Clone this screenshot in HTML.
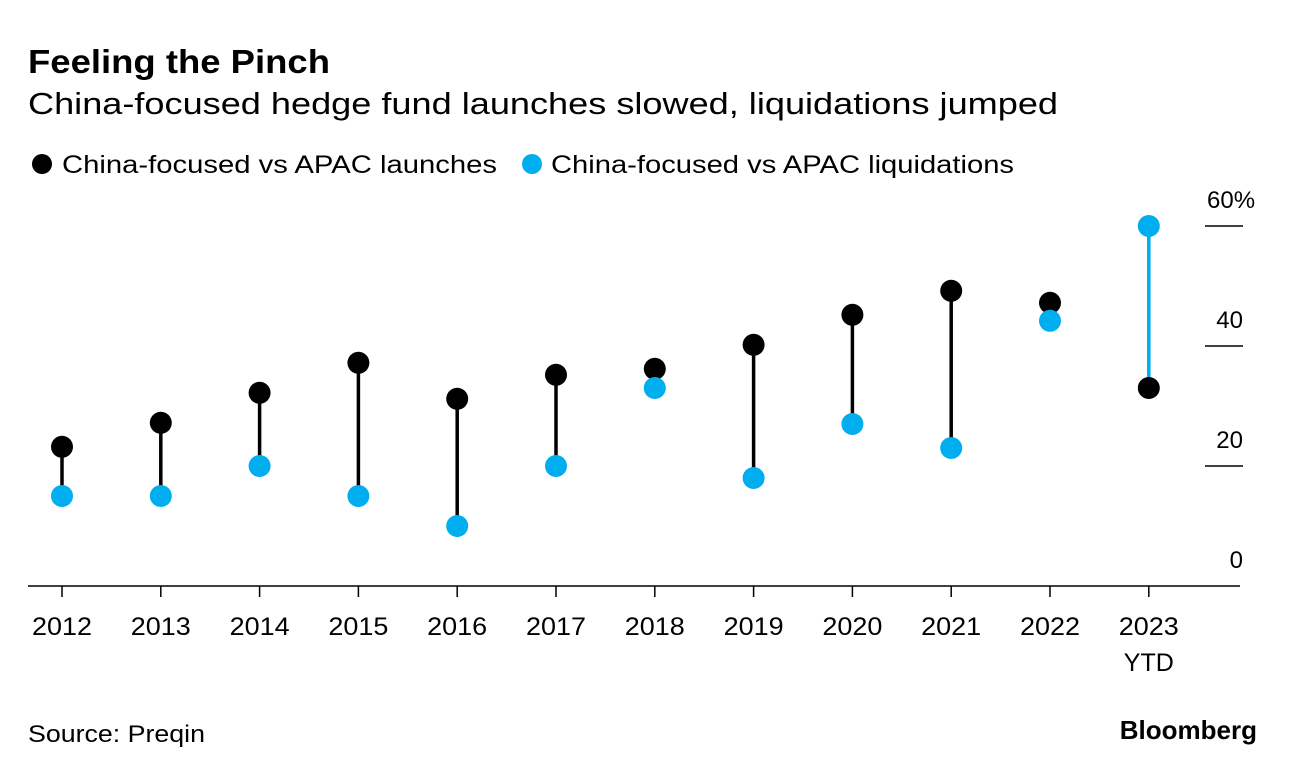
<!DOCTYPE html>
<html><head><meta charset="utf-8"><style>
body{margin:0;background:#fff;font-family:"Liberation Sans",Arial,sans-serif;}
svg{display:block}
</style></head><body>
<svg width="1296" height="774">
<text x="28" y="73" font-size="33" font-weight="bold" fill="#000" textLength="302" lengthAdjust="spacingAndGlyphs">Feeling the Pinch</text>
<text x="28" y="114" font-size="31" fill="#000" textLength="1030" lengthAdjust="spacingAndGlyphs">China-focused hedge fund launches slowed, liquidations jumped</text>
<g>
<circle cx="42" cy="164" r="10" fill="#000"/>
<text x="62" y="173" font-size="25" textLength="435" lengthAdjust="spacingAndGlyphs">China-focused vs APAC launches</text>
<circle cx="532" cy="164" r="10" fill="#00adef"/>
<text x="551" y="173" font-size="25" textLength="463" lengthAdjust="spacingAndGlyphs">China-focused vs APAC liquidations</text>
</g>
<g id="plot"></g>
<text x="28" y="742" font-size="24" textLength="177" lengthAdjust="spacingAndGlyphs">Source: Preqin</text>
<text x="1257" y="739" font-size="26" font-weight="bold" text-anchor="end">Bloomberg</text>
</svg>
<script>
const categories=["2012","2013","2014","2015","2016","2017","2018","2019","2020","2021","2022","2023"];
const launches=[23.2,27.2,32.2,37.2,31.2,35.2,36.2,40.2,45.2,49.2,47.2,33];
const liquidations=[15,15,20,15,10,20,33,18,27,23,44.2,60];
const yTicks=[0,20,40,60];
const ns="http://www.w3.org/2000/svg";
const g=document.getElementById('plot');
const x=i=>62+i*98.8;
const y=v=>586-v*6;
function el(t,a){const e=document.createElementNS(ns,t);for(const k in a)e.setAttribute(k,a[k]);g.appendChild(e);return e;}
yTicks.forEach(t=>{
 if(t>0){const l=el('line',{x1:1205,x2:1243,y1:y(t),y2:y(t),stroke:'#000','stroke-width':1.5});
 
 }
 const top=t===yTicks[yTicks.length-1];
 const tx=el('text',{x:top?1207:1243,y:y(t)-18,'font-size':24,'text-anchor':top?'start':'end'});
 tx.textContent=top?t+'%':String(t);
 
 
});
const ax=el('line',{x1:28,x2:1240,y1:586,y2:586,stroke:'#000','stroke-width':1.5});


categories.forEach((c,i)=>{
 const tk=el('line',{x1:x(i),x2:x(i),y1:586,y2:597,stroke:'#000','stroke-width':1.5});
 
 
 const tx=el('text',{x:x(i),y:635,'font-size':25,'text-anchor':'middle',textLength:60,lengthAdjust:'spacingAndGlyphs'});
 tx.textContent=c;
 
 
 if(i===categories.length-1){const t2=el('text',{x:x(i),y:671,'font-size':25,'text-anchor':'middle'});t2.textContent='YTD';
 
 }
 const a=launches[i],b=liquidations[i];
 const st=el('line',{x1:x(i),x2:x(i),y1:y(a),y2:y(b),stroke:b>a?'#00adef':'#000','stroke-width':3.5});
 
 
 const d1=el('circle',{cx:x(i),cy:y(a),r:11,fill:'#000'});
 
 
 const d2=el('circle',{cx:x(i),cy:y(b),r:11,fill:'#00adef'});
 
 
});
</script>
</body></html>
